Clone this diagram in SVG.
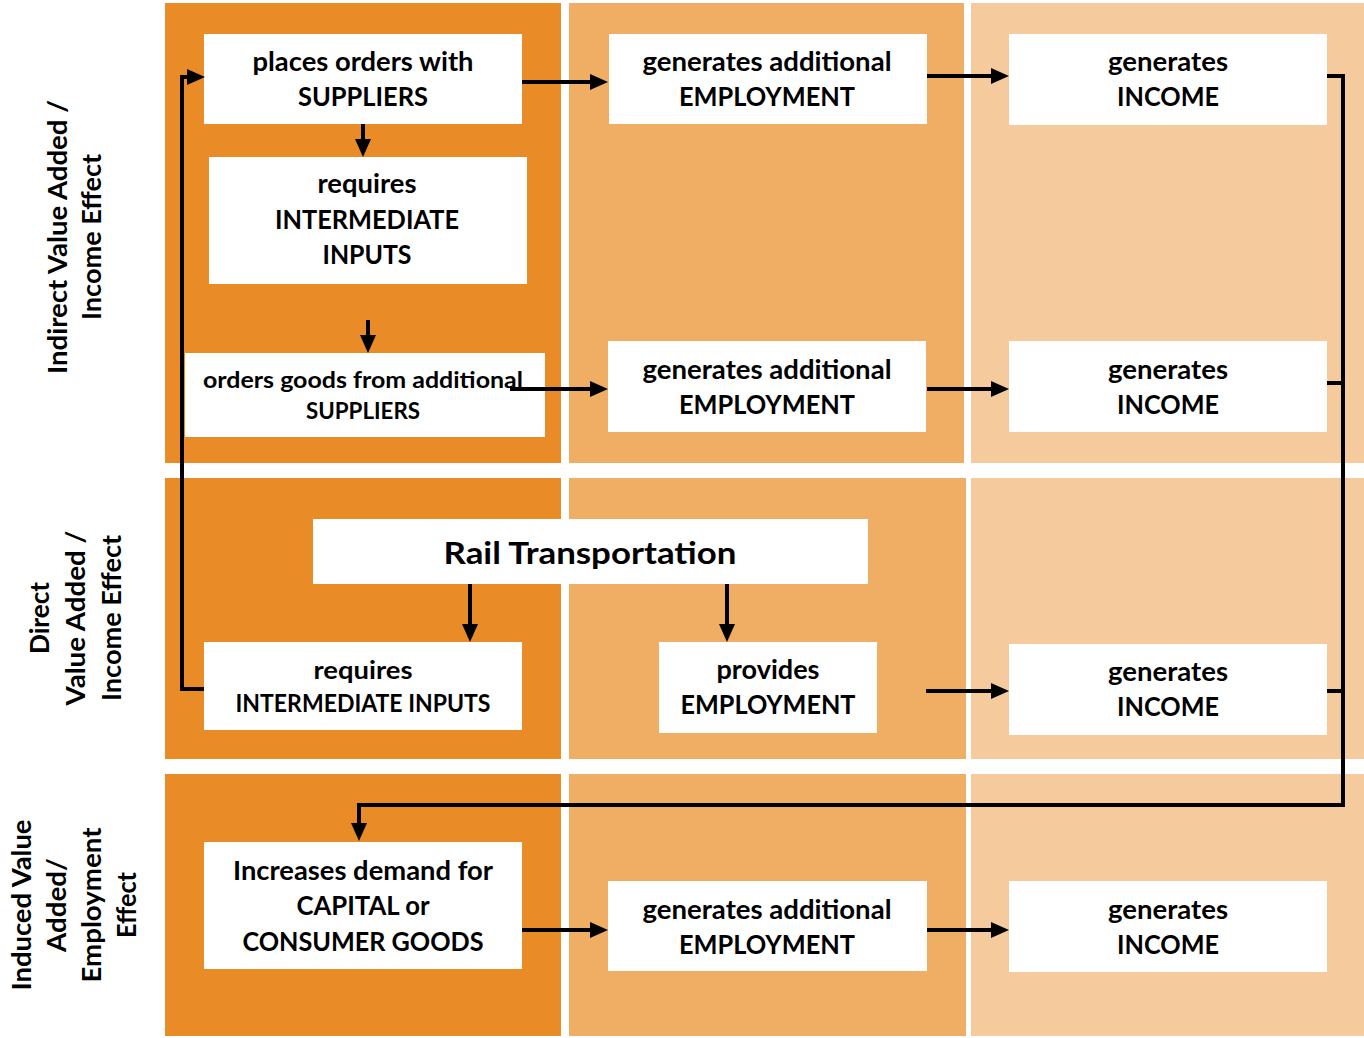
<svg xmlns="http://www.w3.org/2000/svg" width="1364" height="1038" viewBox="0 0 1364 1038">
<style>
  .c1{fill:#E98C28}
  .c2{fill:#F0AE64}
  .c3{fill:#F5CB9E}
  .box{fill:#FFFFFF}
  text{font-family:Lato,"Liberation Sans",sans-serif;font-weight:700;fill:#000;text-anchor:middle}
  .t{font-size:26px}
  .s{font-size:23.5px}
  .m{font-size:24px}
  .big{font-size:31px}
  .lbl{font-size:26px}
  .ln{fill:none;stroke:#000;stroke-width:4}
</style>
<defs>
  <marker id="ah" markerUnits="userSpaceOnUse" markerWidth="18" markerHeight="16" refX="8" refY="8" orient="auto">
    <path d="M0,0 L18,8 L0,16 z" fill="#000"/>
  </marker>
</defs>
<rect width="1364" height="1038" fill="#FFFFFF"/>
<g id="background">
  <rect class="c1" x="165" y="3" width="396" height="460"/>
  <rect class="c2" x="569" y="3" width="395" height="460"/>
  <rect class="c3" x="971" y="3" width="393" height="460"/>
  <rect class="c1" x="165" y="478" width="396" height="281"/>
  <rect class="c2" x="569" y="478" width="397" height="281"/>
  <rect class="c3" x="971" y="478" width="393" height="281"/>
  <rect class="c1" x="165" y="774" width="396" height="262"/>
  <rect class="c2" x="569" y="774" width="397" height="262"/>
  <rect class="c3" x="971" y="774" width="393" height="262"/>
</g>
<g id="labels">
  <g transform="translate(0,237) rotate(-90)">
    <text class="lbl" x="0" y="67" textLength="274" lengthAdjust="spacingAndGlyphs">Indirect Value Added /</text>
    <text class="lbl" x="0" y="101" textLength="166" lengthAdjust="spacingAndGlyphs">Income Effect</text>
  </g>
  <g transform="translate(0,618) rotate(-90)">
    <text class="lbl" x="0" y="49" textLength="72" lengthAdjust="spacingAndGlyphs">Direct</text>
    <text class="lbl" x="0" y="85" textLength="175" lengthAdjust="spacingAndGlyphs">Value Added /</text>
    <text class="lbl" x="0" y="121" textLength="166" lengthAdjust="spacingAndGlyphs">Income Effect</text>
  </g>
  <g transform="translate(0,905) rotate(-90)">
    <text class="lbl" x="0" y="31" textLength="171" lengthAdjust="spacingAndGlyphs">Induced Value</text>
    <text class="lbl" x="0" y="66" textLength="94" lengthAdjust="spacingAndGlyphs">Added/</text>
    <text class="lbl" x="0" y="101" textLength="155" lengthAdjust="spacingAndGlyphs">Employment</text>
    <text class="lbl" x="0" y="136" textLength="66" lengthAdjust="spacingAndGlyphs">Effect</text>
  </g>
</g>
<g id="n-places-orders">
  <rect class="box" x="204" y="34" width="318" height="90"/>
  <text class="t" x="363" y="71" textLength="221" lengthAdjust="spacingAndGlyphs">places orders with</text>
  <text class="t" x="363" y="106" textLength="130" lengthAdjust="spacingAndGlyphs">SUPPLIERS</text>
</g>
<g id="n-requires-inputs-1">
  <rect class="box" x="209" y="157" width="318" height="127"/>
  <text class="t" x="367" y="193" textLength="99" lengthAdjust="spacingAndGlyphs">requires</text>
  <text class="t" x="367" y="229" textLength="184" lengthAdjust="spacingAndGlyphs">INTERMEDIATE</text>
  <text class="t" x="367" y="264" textLength="89" lengthAdjust="spacingAndGlyphs">INPUTS</text>
</g>
<g id="n-orders-goods">
  <rect class="box" x="185" y="353" width="360" height="84"/>
  <text class="s" x="363" y="388" textLength="320" lengthAdjust="spacingAndGlyphs">orders goods from additional</text>
  <text class="s" x="363" y="419" textLength="114" lengthAdjust="spacingAndGlyphs">SUPPLIERS</text>
</g>
<g id="n-employment-1">
  <rect class="box" x="609" y="34" width="318" height="90"/>
  <text class="t" x="767" y="71" textLength="249" lengthAdjust="spacingAndGlyphs">generates additional</text>
  <text class="t" x="767" y="106" textLength="176" lengthAdjust="spacingAndGlyphs">EMPLOYMENT</text>
</g>
<g id="n-income-1">
  <rect class="box" x="1009" y="34" width="318" height="91"/>
  <text class="t" x="1168" y="71" textLength="120" lengthAdjust="spacingAndGlyphs">generates</text>
  <text class="t" x="1168" y="106" textLength="102" lengthAdjust="spacingAndGlyphs">INCOME</text>
</g>
<g id="n-employment-2">
  <rect class="box" x="608" y="341" width="318" height="91"/>
  <text class="t" x="767" y="379" textLength="249" lengthAdjust="spacingAndGlyphs">generates additional</text>
  <text class="t" x="767" y="414" textLength="176" lengthAdjust="spacingAndGlyphs">EMPLOYMENT</text>
</g>
<g id="n-income-2">
  <rect class="box" x="1009" y="341" width="318" height="91"/>
  <text class="t" x="1168" y="379" textLength="120" lengthAdjust="spacingAndGlyphs">generates</text>
  <text class="t" x="1168" y="414" textLength="102" lengthAdjust="spacingAndGlyphs">INCOME</text>
</g>
<g id="n-rail">
  <rect class="box" x="313" y="519" width="555" height="65"/>
  <text class="big" x="590" y="564" textLength="293" lengthAdjust="spacingAndGlyphs">Rail Transportation</text>
</g>
<g id="n-requires-inputs-2">
  <rect class="box" x="204" y="642" width="318" height="88"/>
  <text class="m" x="363" y="679" textLength="99" lengthAdjust="spacingAndGlyphs">requires</text>
  <text class="m" x="363" y="712" textLength="255" lengthAdjust="spacingAndGlyphs">INTERMEDIATE INPUTS</text>
</g>
<g id="n-provides-employment">
  <rect class="box" x="659" y="642" width="218" height="91"/>
  <text class="t" x="768" y="679" textLength="103" lengthAdjust="spacingAndGlyphs">provides</text>
  <text class="t" x="768" y="714" textLength="175" lengthAdjust="spacingAndGlyphs">EMPLOYMENT</text>
</g>
<g id="n-income-3">
  <rect class="box" x="1009" y="644" width="318" height="91"/>
  <text class="t" x="1168" y="681" textLength="120" lengthAdjust="spacingAndGlyphs">generates</text>
  <text class="t" x="1168" y="716" textLength="102" lengthAdjust="spacingAndGlyphs">INCOME</text>
</g>
<g id="n-increases-demand">
  <rect class="box" x="204" y="842" width="318" height="127"/>
  <text class="t" x="363" y="880" textLength="260" lengthAdjust="spacingAndGlyphs">Increases demand for</text>
  <text class="t" x="363" y="915" textLength="133" lengthAdjust="spacingAndGlyphs">CAPITAL or</text>
  <text class="t" x="363" y="951" textLength="241" lengthAdjust="spacingAndGlyphs">CONSUMER GOODS</text>
</g>
<g id="n-employment-3">
  <rect class="box" x="608" y="881" width="319" height="90"/>
  <text class="t" x="767" y="919" textLength="249" lengthAdjust="spacingAndGlyphs">generates additional</text>
  <text class="t" x="767" y="954" textLength="176" lengthAdjust="spacingAndGlyphs">EMPLOYMENT</text>
</g>
<g id="n-income-4">
  <rect class="box" x="1009" y="881" width="318" height="91"/>
  <text class="t" x="1168" y="919" textLength="120" lengthAdjust="spacingAndGlyphs">generates</text>
  <text class="t" x="1168" y="954" textLength="102" lengthAdjust="spacingAndGlyphs">INCOME</text>
</g>
<g id="connectors">
  <line class="ln" x1="522" y1="82" x2="598" y2="82" marker-end="url(#ah)"/>
  <line class="ln" x1="927" y1="76" x2="999" y2="76" marker-end="url(#ah)"/>
  <line class="ln" x1="363" y1="124" x2="363" y2="147" marker-end="url(#ah)"/>
  <line class="ln" x1="368" y1="320" x2="368" y2="343" marker-end="url(#ah)"/>
  <line class="ln" x1="510" y1="389" x2="598" y2="389" marker-end="url(#ah)"/>
  <line class="ln" x1="927" y1="389" x2="999" y2="389" marker-end="url(#ah)"/>
  <line class="ln" x1="470" y1="584" x2="470" y2="632" marker-end="url(#ah)"/>
  <line class="ln" x1="727" y1="584" x2="727" y2="632" marker-end="url(#ah)"/>
  <line class="ln" x1="926" y1="691" x2="999" y2="691" marker-end="url(#ah)"/>
  <line class="ln" x1="522" y1="930" x2="598" y2="930" marker-end="url(#ah)"/>
  <line class="ln" x1="927" y1="930" x2="999" y2="930" marker-end="url(#ah)"/>
  <polyline class="ln" points="204,689 182,689 182,77 195,77" marker-end="url(#ah)"/>
  <line class="ln" x1="1327" y1="76" x2="1343" y2="76"/>
  <line class="ln" x1="1327" y1="383" x2="1343" y2="383"/>
  <line class="ln" x1="1327" y1="691" x2="1343" y2="691"/>
  <polyline class="ln" points="1343,74 1343,805 359,805 359,831" marker-end="url(#ah)"/>
</g>
</svg>
